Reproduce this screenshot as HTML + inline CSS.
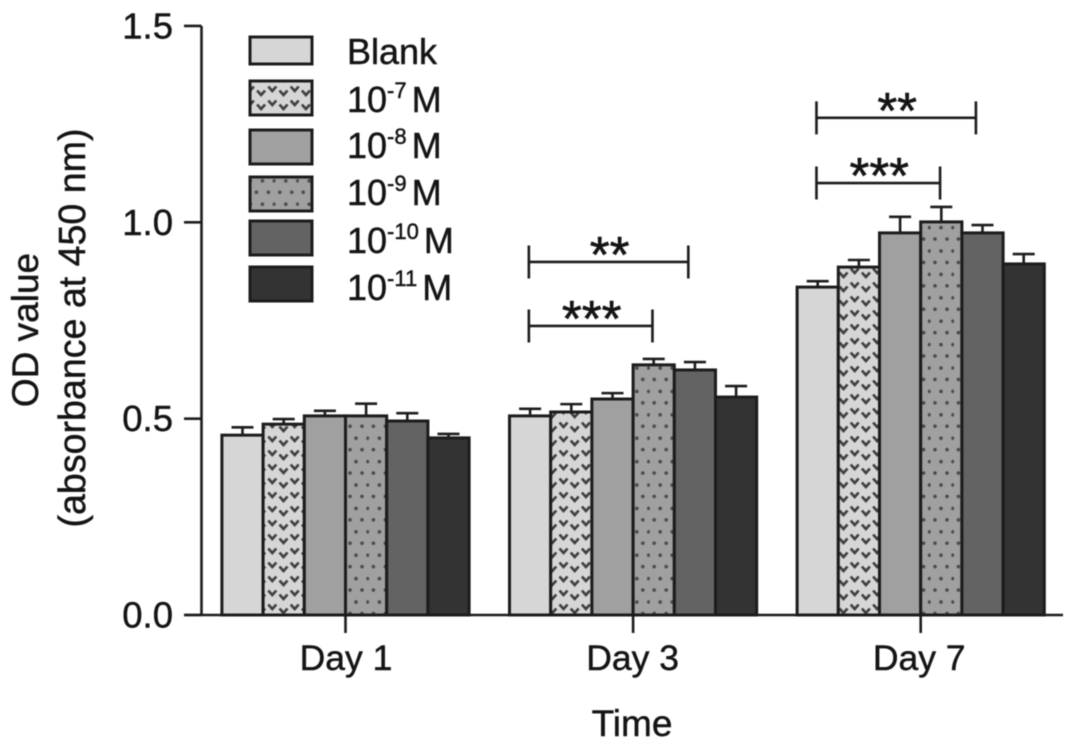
<!DOCTYPE html>
<html lang="en">
<head>
<meta charset="utf-8">
<title>OD value by time and concentration</title>
<style>
html,body{margin:0;padding:0;background:#fff;width:1087px;height:749px;overflow:hidden}
svg{display:block;filter:blur(.5px)}
text{font-family:"Liberation Sans",Arial,sans-serif;fill:#141414;stroke:#141414;stroke-width:.45px}
</style>
</head>
<body>
<svg id="chart" xmlns="http://www.w3.org/2000/svg" width="1087" height="749" viewBox="0 0 1087 749">
<defs>
<pattern id="pat-v" width="22.4" height="14" patternUnits="userSpaceOnUse" x="222" y="0">
<rect width="22.4" height="14" fill="#d6d6d6"/>
<path d="M1.5 2.5l4 4.5 4-4.5M12.7 6.5l4 4.5 4-4.5" fill="none" stroke="#3f3f3f" stroke-width="2.6"/>
</pattern>
<pattern id="pat-dot" width="23.4" height="23.4" patternUnits="userSpaceOnUse" x="345" y="0">
<rect width="23.4" height="23.4" fill="#a0a0a0"/>
<circle cx="5" cy="5" r="1.8" fill="#4a4a4a"/>
<circle cx="17" cy="5" r="1.8" fill="#4a4a4a"/>
<circle cx="11" cy="17" r="1.8" fill="#4a4a4a"/>
<circle cx="23" cy="17" r="1.8" fill="#4a4a4a"/>
<circle cx="-1" cy="17" r="1.8" fill="#4a4a4a"/>
</pattern>
</defs>
<g id="bars"></g>
<g id="axes"></g>
<g id="brackets"></g>
<g id="legend"></g>
<text x="632" y="736" font-size="37" text-anchor="middle">Time</text>
<text transform="translate(38 330) rotate(-90)" font-size="37" text-anchor="middle">OD value</text>
<text transform="translate(85 328) rotate(-90)" font-size="37.6" text-anchor="middle">(absorbance at 450 nm)</text>
</svg>
<script>
const categories = ["Day 1", "Day 3", "Day 7"];
const seriesBases = ["Blank", "10", "10", "10", "10", "10"];
const seriesExponents = ["", "-7", "-8", "-9", "-10", "-11"];
const seriesUnits = ["", "M", "M", "M", "M", "M"];
const day1Values = [0.458, 0.486, 0.507, 0.507, 0.494, 0.451];
const day3Values = [0.507, 0.517, 0.550, 0.637, 0.624, 0.555];
const day7Values = [0.835, 0.886, 0.973, 1.001, 0.973, 0.894];
const day1Errors = [0.020, 0.013, 0.013, 0.031, 0.020, 0.010];
const day3Errors = [0.018, 0.020, 0.015, 0.015, 0.020, 0.028];
const day7Errors = [0.015, 0.018, 0.041, 0.038, 0.020, 0.025];
const yTicks = [0, 0.5, 1.0, 1.5];
const bracketDays = [1, 1, 2, 2];
const bracketStarts = [0, 0, 0, 0];
const bracketEnds = [3, 4, 3, 4];
const bracketLevels = [0.736, 0.899, 1.100, 1.266];
const bracketLabels = ["***", "**", "***", "**"];

const values = [day1Values, day3Values, day7Values];
const errors = [day1Errors, day3Errors, day7Errors];
const fills = ["#d6d6d6", "url(#pat-v)", "#a0a0a0", "url(#pat-dot)", "#636363", "#333333"];
const INK = "#1c1c1c";
const NS = "http://www.w3.org/2000/svg";

function y(v) { return 615 - v * 392.7; }
function groupCenter(i) { return 345.5 + 287.6 * i; }
const BAR = 41.2;
function barLeft(g, s) { return groupCenter(g) - 3 * BAR + s * BAR; }
function bracketX(g, s) { return barLeft(g, s) + BAR * 0.47 - (s > 0 ? BAR * (s === 3 ? 0.0 : 0.13) : 0); }

function make(tag, parent, attrs) {
  const el = document.createElementNS(NS, tag);
  for (const k in attrs) el.setAttribute(k, attrs[k]);
  parent.appendChild(el);
  return el;
}

const barsG = document.getElementById("bars");
values.forEach(function (row, g) {
  row.forEach(function (v, s) {
    const x = barLeft(g, s);
    const cx = x + BAR / 2;
    const errLine = make("path", barsG, {
      d: "M" + cx + " " + y(v) + "V" + y(v + errors[g][s]) + "M" + (cx - 11) + " " + y(v + errors[g][s]) + "H" + (cx + 11),
      fill: "none", stroke: INK, "stroke-width": 2.6
    });
    
    
    const bar = make("rect", barsG, {
      x: x, y: y(v), width: BAR, height: y(0) - y(v),
      fill: fills[s], stroke: INK, "stroke-width": 3
    });
    
    
  });
});

const axesG = document.getElementById("axes");
const yAxisLine = make("path", axesG, { d: "M201.5 " + y(1.5) + "V" + y(0), fill: "none", stroke: INK, "stroke-width": 2.6 });


const xAxisLine = make("path", axesG, { d: "M184 " + y(0) + "H1063", fill: "none", stroke: INK, "stroke-width": 2.6 });


yTicks.forEach(function (t) {
  const tick = make("path", axesG, { d: "M184 " + y(t) + "H201.5", fill: "none", stroke: INK, "stroke-width": 2.6 });
  
  
  const label = make("text", axesG, { x: 173, y: y(t) + 12.5, "font-size": 36.5, "text-anchor": "end" });
  label.textContent = t.toFixed(1);
  
  
});
categories.forEach(function (c, g) {
  const tick = make("path", axesG, { d: "M" + groupCenter(g) + " " + y(0) + "V633", fill: "none", stroke: INK, "stroke-width": 2.6 });
  
  
  const label = make("text", axesG, { x: groupCenter(g) + 0.5 - g, y: 670, "font-size": 35.5, "text-anchor": "middle" });
  label.textContent = c;
  
  
});

const bracketsG = document.getElementById("brackets");
bracketDays.forEach(function (g, i) {
  const x1 = bracketX(g, bracketStarts[i]);
  const x2 = bracketX(g, bracketEnds[i]);
  const yy = y(bracketLevels[i]);
  const line = make("path", bracketsG, {
    d: "M" + x1 + " " + (yy - 16.5) + "V" + (yy + 16.5) + "M" + x2 + " " + (yy - 16.5) + "V" + (yy + 16.5) + "M" + x1 + " " + yy + "H" + x2,
    fill: "none", stroke: INK, "stroke-width": 2.6
  });
  
  
  const star = make("text", bracketsG, { x: (x1 + x2) / 2 + 1, y: yy + 10, "font-size": 51, "text-anchor": "middle", style: "stroke-width:.6px" });
  star.textContent = bracketLabels[i];
  
  
});

const legendG = document.getElementById("legend");
const legendTop = [37, 81, 130, 177, 221, 267];
const legendHeight = [27, 34, 34, 34, 34, 34];
const legendBaseline = [64, 112, 158, 205, 253, 300];
seriesBases.forEach(function (b, s) {
  const swatch = make("rect", legendG, {
    x: 250, y: legendTop[s], width: 62, height: legendHeight[s],
    fill: fills[s], stroke: INK, "stroke-width": 3
  });
  
  
  const t = make("text", legendG, { x: 347, y: legendBaseline[s], "font-size": 36 });
  
  
  const base = make("tspan", t, {});
  base.textContent = b;
  if (seriesExponents[s]) {
    const sup = make("tspan", t, { dy: -14, "font-size": 22 });
    sup.textContent = seriesExponents[s];
    const unit = make("tspan", t, { dy: 14, dx: 5 });
    unit.textContent = seriesUnits[s];
  }
});
</script>
</body>
</html>
